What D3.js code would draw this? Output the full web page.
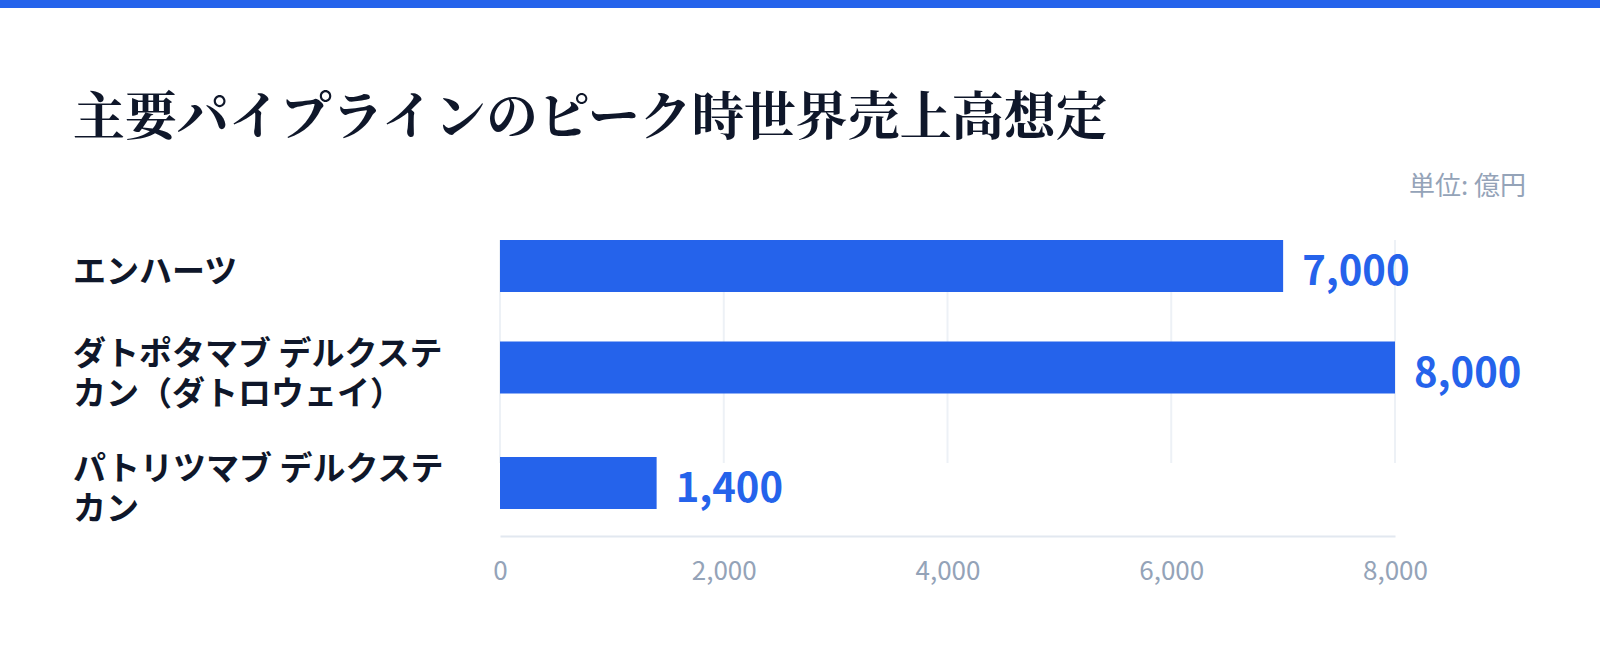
<!DOCTYPE html>
<html lang="ja">
<head>
<meta charset="utf-8">
<script src="https://cdn.jsdelivr.net/npm/d3@7"></script>
<style>
  html, body { margin: 0; padding: 0; background: #fff; }
  svg { display: block; }
</style>
</head>
<body>
<div class="canvas"></div>
<script>
// data
const title = '主要パイプラインのピーク時世界売上高想定';
const unitLabel = '単位: 億円';
const categories = ['エンハーツ', 'ダトポタマブ デルクステカン（ダトロウェイ）', 'パトリツマブ デルクステカン'];
const peakSales = [7000, 8000, 1400];
const xTicks = [0, 2000, 4000, 6000, 8000];

const width = 1600;
const height = 655;
const blue = '#2563eb';
const sansFont = '"Noto Sans CJK JP", "Noto Sans", sans-serif';

const svg = d3.select('.canvas')
  .append('svg')
    .attr('width', width)
    .attr('height', height);

// top accent bar
svg.append('rect')
  .attr('x', 0)
  .attr('y', 0)
  .attr('width', width)
  .attr('height', 8)
  .attr('fill', blue);

// title
svg.append('text')
  .attr('x', 73)
  .attr('y', 112)
  .attr('dominant-baseline', 'central')
  .attr('font-family', '"Noto Serif CJK JP", "Noto Serif JP", "Noto Sans CJK JP", serif')
  .attr('font-weight', 700)
  .attr('font-size', 52)
  .attr('fill', '#0f172a')
  .text(title);

// unit label
svg.append('text')
  .attr('x', 1526)
  .attr('y', 183)
  .attr('text-anchor', 'end')
  .attr('dominant-baseline', 'central')
  .attr('font-family', sansFont)
  .attr('font-size', 26)
  .attr('fill', '#94a3b8')
  .text(unitLabel);

const data = categories.map((name, i) => ({ name, value: peakSales[i] }));

// layout
const chartTop = 240;
const barHeight = 52;
const lineHeight = 40;
const rowGap = 35.5;
const labelMaxWidth = 385;
const gridBottom = 463;
const axisY = 536;

const x = d3.scaleLinear()
  .domain([0, 8000])
  .range([500, 1395]);

// wrap the category labels character by character
const labels = svg.append('g')
  .attr('font-family', sansFont)
  .attr('font-weight', 700)
  .attr('font-size', 33)
  .attr('fill', '#0f172a');

const measure = labels.append('text');
data.forEach(d => {
  const lines = [];
  let line = '';
  for (const ch of d.name) {
    measure.text(line + ch);
    if (line && measure.node().getComputedTextLength() > labelMaxWidth) {
      lines.push(line);
      line = ch;
    } else {
      line += ch;
    }
  }
  lines.push(line);
  d.lines = lines;
  d.rowHeight = Math.max(barHeight, lines.length * lineHeight);
});
measure.remove();

// row positions from row heights
let rowCursor = chartTop;
data.forEach(d => {
  d.top = rowCursor;
  rowCursor += d.rowHeight + rowGap;
});
const rowTop = d3.scaleOrdinal()
  .domain(categories)
  .range(data.map(d => d.top));
const rowCenter = d => rowTop(d.name) + d.rowHeight / 2;

// gridlines
svg.append('g')
  .selectAll('line')
  .data(xTicks)
  .enter()
  .append('line')
    .attr('x1', d => x(d))
    .attr('x2', d => x(d))
    .attr('y1', chartTop)
    .attr('y2', gridBottom)
    .attr('stroke', '#edf1f6')
    .attr('stroke-width', 2);

// bars
svg.append('g')
  .selectAll('rect')
  .data(data)
  .enter()
  .append('rect')
    .attr('x', x(0))
    .attr('y', d => rowCenter(d) - barHeight / 2)
    .attr('width', d => x(d.value) - x(0))
    .attr('height', barHeight)
    .attr('fill', blue);

// value labels
svg.append('g')
  .selectAll('text')
  .data(data)
  .enter()
  .append('text')
    .attr('x', d => x(d.value) + 19)
    .attr('y', d => rowCenter(d) + 2)
    .attr('dominant-baseline', 'central')
    .attr('font-family', sansFont)
    .attr('font-weight', 700)
    .attr('font-size', 40)
    .attr('fill', blue)
    .text(d => d3.format(',')(d.value));

// category labels
labels.selectAll('text')
  .data(data)
  .enter()
  .append('text')
    .attr('x', 73)
    .each(function(d) {
      const start = rowCenter(d) - (d.lines.length - 1) * lineHeight / 2 + 3;
      d3.select(this).selectAll('tspan')
        .data(d.lines)
        .enter()
        .append('tspan')
          .attr('x', 73)
          .attr('y', (l, i) => start + i * lineHeight)
          .attr('dominant-baseline', 'central')
          .text(l => l);
    });

// x axis
const xAxis = d3.axisBottom(x)
  .tickValues(xTicks)
  .tickSize(0)
  .tickSizeOuter(0)
  .tickFormat(d3.format(','));

const xAxisGroup = svg.append('g')
  .attr('transform', `translate(0, ${axisY})`)
  .call(xAxis);

xAxisGroup.select('.domain')
  .attr('stroke', '#e2e8f0')
  .attr('stroke-width', 2);

xAxisGroup.selectAll('text')
  .attr('y', 32)
  .attr('dy', null)
  .attr('dominant-baseline', 'central')
  .attr('font-family', sansFont)
  .attr('font-size', 26)
  .attr('fill', '#94a3b8');
</script>
</body>
</html>
